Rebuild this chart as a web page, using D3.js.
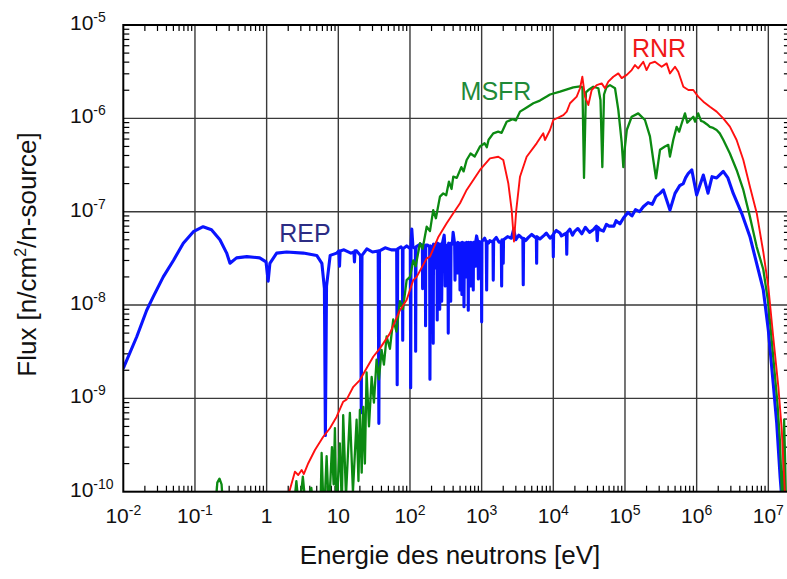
<!DOCTYPE html>
<html><head><meta charset="utf-8">
<script src="https://cdn.jsdelivr.net/npm/d3@7"></script>
<style>body{margin:0;background:#fff}svg{display:block}</style>
</head><body>
<svg id="c" width="787" height="579"></svg>
<script>
// ---- tick values / labels ----
const xTicks = [1e-2,1e-1,1,10,1e2,1e3,1e4,1e5,1e6,1e7];
const xTickLabels = [["10","-2"],["10","-1"],["1",""],["10",""],["10","2"],["10","3"],["10","4"],["10","5"],["10","6"],["10","7"]];
const yTicks = [1e-10,1e-9,1e-8,1e-7,1e-6,1e-5];
const yTickLabels = [["10","-10"],["10","-9"],["10","-8"],["10","-7"],["10","-6"],["10","-5"]];
const xTitle = "Energie des neutrons [eV]";
const seriesNames = ["REP","MSFR","RNR"];

// ---- series: [energy eV, flux] ----
const rep = [
[0.01,2.1e-9],[0.0154,4.57e-9],[0.0212,8.8e-9],[0.0262,1.23e-8],[0.0361,2.0e-8],[0.05,3.0e-8],[0.0687,4.6e-8],
[0.095,6.1e-8],[0.13,6.9e-8],[0.17,6.4e-8],[0.223,5.0e-8],[0.277,3.6e-8],[0.308,2.8e-8],[0.38,3.2e-8],[0.53,3.3e-8],
[0.8,3.2e-8],[0.98,2.9e-8],[1.05,1.8e-8],[1.11,2.8e-8],[1.38,3.6e-8],[1.9,3.7e-8],[3.25,3.6e-8],[5.0,3.4e-8],[5.9,2.8e-8],
[6.4,1.5e-8],[6.6,4.0e-10],[6.85,1.6e-8],[7.7,3.4e-8],[9.5,3.6e-8],[10.2,3.8e-8],[10.4,2.6e-8],[10.6,3.8e-8],[12,3.9e-8],
[15,3.6e-8],[16.5,3.7e-8],[16.8,2.9e-8],[17.1,3.8e-8],[18,3.8e-8],
[20.4,3.4e-8],[20.9,7.0e-10],[21.4,3.4e-8],[25,4.0e-8],[30,3.7e-8],[36.0,3.8e-8],[36.8,5.4e-10],[37.6,3.8e-8],
[45,4.1e-8],[55,3.9e-8],[65.2,3.9e-8],[66.3,1.4e-9],[67.4,4.0e-8],[75,4.2e-8],[78.5,4.0e-8],[79.2,4.2e-9],[80,4.0e-8],
[90,4.3e-8],[101,4.0e-8],[102.3,1.3e-9],[103.5,4.4e-8],[106,6.5e-8],[110,4.2e-8],[119,4.0e-8],[120,3.2e-9],[121.5,4.2e-8],
[140,4.5e-8],[149,4.3e-8],[150,1.5e-8],[151,4.4e-8],[160,3.0e-8],[164,4.3e-8],[165,6e-9],[166,4.4e-8],[175,4.4e-8],
[188,4.2e-8],[190,1.6e-9],[192,4.3e-8],[209,4.2e-8],[211,3.9e-9],[213,4.5e-8],[228,4.3e-8],[230,2.5e-8],[232,4.6e-8],
[238,4.3e-8],[240,6.9e-9],[242,4.6e-8],[258,4.4e-8],[260,9e-9],[262,4.5e-8],[272,4.4e-8],[277,1.1e-8],[282,4.5e-8],
[300,5.6e-8],[307,4.3e-8],[310,1.6e-8],[313,4.4e-8],[320,4.3e-8],[338,4.4e-8],[342,5.0e-9],[346,4.6e-8],[366,4.5e-8],
[370,1.1e-8],[374,4.6e-8],[390,4.5e-8],[400,6.0e-8],[420,4.5e-8],[425,1.85e-8],[430,4.6e-8],[455,4.5e-8],[460,2.2e-8],
[465,4.7e-8],[494,4.5e-8],[499,1.45e-8],[504,4.6e-8],[525,4.5e-8],[530,1.3e-8],[535,4.7e-8],[560,4.6e-8],[567,9.6e-9],
[574,4.6e-8],[604,4.5e-8],[610,2.0e-8],[616,4.7e-8],[645,4.5e-8],[651,8.8e-9],[657,4.7e-8],[693,4.6e-8],[700,1.6e-8],
[707,4.7e-8],[720,4.6e-8],[757,4.6e-8],[764,1.45e-8],[770,4.7e-8],[812,4.7e-8],[820,2.6e-8],[828,4.8e-8],[850,5.5e-8],
[890,4.6e-8],[900,1.9e-8],[910,4.8e-8],[990,4.7e-8],[1000,6.6e-9],[1010,4.8e-8],[1100,5.2e-8],[1160,4.7e-8],
[1174,1.45e-8],[1190,4.8e-8],[1250,4.6e-8],[1300,4.9e-8],[1440,4.7e-8],[1452,1.85e-8],[1470,4.9e-8],[1600,5.3e-8],
[1750,4.7e-8],[1880,4.8e-8],[1901,1.6e-8],[1920,5.0e-8],[1980,4.9e-8],[2001,2.8e-8],[2020,5.0e-8],[2300,5.4e-8],
[2600,5.2e-8],[2800,6.5e-8],[3000,5.0e-8],[3300,5.6e-8],[3760,5.1e-8],[3806,1.65e-8],[3850,5.2e-8],[4100,4.9e-8],
[4500,5.3e-8],[5000,5.7e-8],[5800,5.2e-8],[5853,2.8e-8],[5900,5.4e-8],[6500,5.1e-8],[7500,5.6e-8],[8000,5.9e-8],
[9000,5.2e-8],[9900,5.6e-8],[10000,3.3e-8],[10100,5.8e-8],[11000,6.3e-8],[12400,5.9e-8],[13000,5.5e-8],[15200,5.9e-8],
[15400,3.5e-8],[15600,6.0e-8],[17000,6.5e-8],[18500,5.6e-8],[20000,6.2e-8],[22000,6.6e-8],[25000,5.8e-8],[28000,6.8e-8],
[32000,6.0e-8],[36100,6.4e-8],[40000,7.0e-8],[41000,4.9e-8],[42000,6.8e-8],[45000,6.4e-8],[50000,6.2e-8],[55000,7.3e-8],
[60000,7.0e-8],[70000,7.0e-8],[75000,8.0e-8],[85000,7.4e-8],[94800,8.5e-8],[1.1e5,9.8e-8],[1.25e5,9.0e-8],
[1.4e5,1.05e-7],[1.6e5,1.0e-7],[1.8e5,1.13e-7],[2.1e5,1.25e-7],[2.4e5,1.2e-7],[2.7e5,1.45e-7],[3.08e5,1.57e-7],
[3.43e5,1.71e-7],[4.24e5,1.04e-7],[4.99e5,1.57e-7],[5.8e5,1.9e-7],[6.5e5,2.0e-7],[7.0e5,2.3e-7],[7.66e5,2.58e-7],
[8.56e5,2.8e-7],[1.0e6,1.51e-7],[1.24e6,2.47e-7],[1.44e6,1.58e-7],[1.64e6,2.37e-7],[1.9e6,2.3e-7],[2.35e6,2.7e-7],
[2.73e6,2.3e-7],[3.24e6,1.57e-7],[4.25e6,9.6e-8],[5.54e6,5.4e-8],[7.66e6,2.0e-8],[8.51e6,1.45e-8],[1.0e7,5.4e-9],
[1.17e7,1.45e-9],[1.31e7,5.4e-10],[1.46e7,1.45e-10],[1.55e7,8e-11]
];

const msfr = [
[0.19,6e-11],[0.205,1.25e-10],[0.22,1.38e-10],[0.235,1.2e-10],[0.25,6e-11],
[2.3,5e-11],[2.6,1.3e-10],[2.85,6e-11],[3.2,1.45e-10],[3.5,7e-11],[4.2,1.1e-10],[4.7,5e-11],[5.3,9e-11],[5.6,5e-11],
[5.85,2.6e-10],[6.3,5e-11],[6.87,2.4e-10],[7.4,6e-11],[8.15,3.0e-10],[8.6,1.2e-10],[8.97,4.8e-10],[9.4,6e-11],
[10.5,3.3e-10],[11.2,7e-11],[11.7,6.6e-10],[12.8,9e-11],[14.5,7.0e-10],[16.0,1e-10],[18.0,5.9e-10],[19.1,1.3e-10],
[20.0,7.5e-10],[21.2,1.6e-10],[22.3,8.1e-10],[23.5,2.0e-10],[24.8,1.9e-9],[26.8,5e-10],[29.2,1.7e-9],[31.4,9e-10],
[34.2,2.6e-9],[36.9,1.6e-9],[40.2,3.3e-9],[43.3,2.3e-9],[47.2,4.6e-9],[52.5,3.4e-9],[58.4,7.0e-9],[64.7,5.2e-9],
[72.4,1.1e-8],[79.8,9e-9],[89.8,1.85e-8],[100,2.0e-8],[111,3.0e-8],[120,2.6e-8],[138,4.6e-8],[150,4.0e-8],[171,6.9e-8],
[190,6.2e-8],[211,1.04e-7],[230,8.5e-8],[262,1.45e-7],[291,1.57e-7],[320,1.5e-7],[350,2.1e-7],[380,1.75e-7],
[402,2.37e-7],[450,2.3e-7],[520,3.0e-7],[560,2.7e-7],[618,3.58e-7],[700,4.2e-7],[800,3.9e-7],[948,5.0e-7],[1100,5.4e-7],
[1180,4.9e-7],[1250,5.9e-7],[1453,6.9e-7],[1700,7.2e-7],[1900,7.0e-7],[2234,9.2e-7],[2700,9.8e-7],[3000,9.5e-7],
[3428,1.18e-6],[4200,1.3e-6],[5260,1.45e-6],[6500,1.55e-6],[8090,1.71e-6],[9000,1.8e-6],[1.24e4,1.93e-6],[1.9e4,2.15e-6],
[2.36e4,2.2e-6],[2.55e4,2.15e-6],[2.68e4,2.3e-7],[2.85e4,1.9e-6],[3.08e4,2.01e-6],[3.61e4,2.18e-6],[4.25e4,2.1e-6],
[4.55e4,1.57e-6],[4.83e4,3.0e-7],[5.1e4,1.8e-6],[5.5e4,2.15e-6],[6.18e4,2.27e-6],[7.26e4,2.1e-6],[8.07e4,1.23e-6],
[9.0e4,5.5e-7],[9.48e4,3.0e-7],[1.0e5,5.0e-7],[1.06e5,7.5e-7],[1.24e5,1.04e-6],[1.53e5,1.13e-6],[1.9e5,9.6e-7],
[2.23e5,6.4e-7],[2.48e5,3.6e-7],[2.71e5,2.28e-7],[3.08e5,4.6e-7],[3.61e5,5.0e-7],[4.02e5,5.2e-7],[4.24e5,3.9e-7],
[4.72e5,5.9e-7],[5.26e5,8.1e-7],[5.7e5,7.2e-7],[6.18e5,8.8e-7],[6.87e5,1.13e-6],[7.4e5,9.0e-7],[8.07e5,9.6e-7],
[8.98e5,1.04e-6],[9.5e5,9.2e-7],[1.05e6,1.13e-6],[1.15e6,9.4e-7],[1.24e6,9.2e-7],[1.4e6,8.6e-7],[1.53e6,8.1e-7],
[1.7e6,7.9e-7],[1.9e6,7.5e-7],[2.1e6,6.9e-7],[2.35e6,5.9e-7],[2.91e6,4.2e-7],[3.61e6,2.8e-7],[4.48e6,1.71e-7],
[5.54e6,8.8e-8],[6.88e6,4.2e-8],[8.51e6,2.4e-8],[1.0e7,1.04e-8],[1.17e7,2.8e-9],[1.34e7,8.9e-10],[1.46e7,3.3e-10],
[1.54e7,9.7e-11],[1.6e7,8e-11],[1.66e7,5.9e-10],[1.72e7,2e-10],[1.77e7,6e-11]
];

const rnr = [
[1.9,7e-11],[2.07,1.0e-10],[2.48,1.64e-10],[2.76,1.51e-10],[3.08,1.71e-10],[3.31,1.55e-10],[3.81,2.02e-10],
[4.72,2.8e-10],[6.16,3.88e-10],[7.64,4.78e-10],[9.48,6.36e-10],[11.7,9.2e-10],[13.1,9.75e-10],[16.2,1.33e-9],
[20.0,1.57e-9],[24.8,2.1e-9],[30.7,2.79e-9],[38.1,3.43e-9],[52.5,4.97e-9],[72.4,8.8e-9],[89.8,1.13e-8],[111,1.85e-8],
[124,2.0e-8],[171,3.16e-8],[190,3.29e-8],[250,5.4e-8],[325,7.5e-8],[402,9.6e-8],[499,1.23e-7],[618,1.71e-7],
[948,2.8e-7],[1307,3.73e-7],[1708,3.88e-7],[2004,3.58e-7],[2353,2.02e-7],[2624,1.04e-7],[2825,4.8e-8],[3041,1.04e-7],
[3428,2.37e-7],[4246,3.88e-7],[5853,5.4e-7],[7240,6.92e-7],[7650,5.86e-7],[8990,7.5e-7],[1e4,9.6e-7],[1.38e4,1.08e-6],
[1.54e4,1.18e-6],[1.71e4,1.45e-6],[2.12e4,1.71e-6],[2.36e4,2.1e-6],[2.54e4,2.79e-6],[2.77e4,1.71e-6],[3.08e4,1.39e-6],
[3.43e4,2.01e-6],[4.03e4,2.27e-6],[4.73e4,2.37e-6],[5.26e4,2.1e-6],[5.85e4,2.47e-6],[6.87e4,2.79e-6],[8.07e4,3.03e-6],
[9e4,2.7e-6],[1.06e5,2.92e-6],[1.24e5,3.29e-6],[1.38e5,3.72e-6],[1.53e5,3.43e-6],[1.8e5,4.04e-6],[2.0e5,3.29e-6],
[2.23e5,3.88e-6],[2.62e5,4.04e-6],[2.91e5,3.8e-6],[3.25e5,3.57e-6],[3.81e5,3.88e-6],[4.24e5,3.03e-6],[4.99e5,3.57e-6],
[5.54e5,3.16e-6],[6.52e5,2.18e-6],[7.66e5,2.01e-6],[8.97e5,2.01e-6],[1.05e6,1.71e-6],[1.24e6,1.51e-6],[1.53e6,1.33e-6],
[1.9e6,1.18e-6],[2.35e6,1.0e-6],[2.91e6,8.14e-7],[3.61e6,5.86e-7],[4.48e6,3.58e-7],[5.54e6,1.85e-7],[6.88e6,9.7e-8],
[8.51e6,3.7e-8],[1e7,1.57e-8],[1.17e7,4.57e-9],[1.38e7,1.33e-9],[1.54e7,4.58e-10],[1.66e7,1.45e-10],[1.72e7,8e-11]
];

// ---- drawing ----
const svg = d3.select("#c");
const L = 123.3, T = 25, R = 789.9, B = 491.7;
const x = d3.scaleLog().domain([1e-2, 2e7]).range([L, R]);
const y = d3.scaleLog().domain([1e-10, 1e-5]).range([B, T]);
const font = "'Liberation Sans', Arial, sans-serif";

svg.append("defs").append("clipPath").attr("id","clip")
  .append("rect").attr("x",L).attr("y",T).attr("width",R-L).attr("height",B-T);

// grid
const g = svg.append("g");
g.selectAll(".gx").data(xTicks.slice(1)).join("line")
  .attr("x1",d=>x(d)).attr("x2",d=>x(d)).attr("y1",T).attr("y2",B)
  .attr("stroke","#3a3a3a").attr("stroke-width",1.4);
g.selectAll(".gy").data(yTicks.slice(1,-1)).join("line")
  .attr("y1",d=>y(d)).attr("y2",d=>y(d)).attr("x1",L).attr("x2",R)
  .attr("stroke","#3a3a3a").attr("stroke-width",1.4);

// minor ticks
const xMinor = [], yMinor = [];
xTicks.forEach(d=>{ for(let k=2;k<10;k++){ const v=k*d; if(v<2e7) xMinor.push(v);} });
yTicks.slice(0,-1).forEach(d=>{ for(let k=2;k<10;k++) yMinor.push(k*d); });
const tl = 6;
g.selectAll(".mxt").data(xMinor).join("line").attr("x1",d=>x(d)).attr("x2",d=>x(d)).attr("y1",T).attr("y2",T+tl).attr("stroke","#000").attr("stroke-width",1.2);
g.selectAll(".mxb").data(xMinor).join("line").attr("x1",d=>x(d)).attr("x2",d=>x(d)).attr("y1",B).attr("y2",B-tl).attr("stroke","#000").attr("stroke-width",1.2);
g.selectAll(".myl").data(yMinor).join("line").attr("y1",d=>y(d)).attr("y2",d=>y(d)).attr("x1",L).attr("x2",L+tl).attr("stroke","#000").attr("stroke-width",1.2);
g.selectAll(".myr").data(yMinor).join("line").attr("y1",d=>y(d)).attr("y2",d=>y(d)).attr("x1",R).attr("x2",R-tl).attr("stroke","#000").attr("stroke-width",1.2);

// curves
const line = d3.line().x(d=>x(d[0])).y(d=>y(d[1]));
const cg = svg.append("g").attr("clip-path","url(#clip)");
cg.append("path").datum(rep).attr("d",line).attr("fill","none").attr("stroke","#0a14ff").attr("stroke-width",3.1).attr("stroke-linejoin","round");
cg.append("path").datum(msfr).attr("d",line).attr("fill","none").attr("stroke","#0c8a12").attr("stroke-width",2.3).attr("stroke-linejoin","round");
cg.append("path").datum(rnr).attr("d",line).attr("fill","none").attr("stroke","#ff1010").attr("stroke-width",1.9).attr("stroke-linejoin","round");

// frame
svg.append("rect").attr("x",L).attr("y",T).attr("width",R-L).attr("height",B-T)
  .attr("fill","none").attr("stroke","#000").attr("stroke-width",2);

// tick labels
const xl = svg.append("g").attr("font-family",font).attr("fill","#111");
xTicks.forEach((v,i)=>{
  const t = xl.append("text").attr("x",x(v)).attr("y",523).attr("text-anchor","middle").attr("font-size",21);
  t.append("tspan").text(xTickLabels[i][0]);
  if (xTickLabels[i][1]) t.append("tspan").attr("font-size",14).attr("dy",-8).text(xTickLabels[i][1]);
});
yTicks.forEach((v,i)=>{
  const t = xl.append("text").attr("x",70).attr("y",y(v)+5).attr("font-size",21);
  t.append("tspan").text(yTickLabels[i][0]);
  t.append("tspan").attr("font-size",14).attr("dy",-8).text(yTickLabels[i][1]);
});

// axis titles
svg.append("text").attr("x",450).attr("y",564).attr("text-anchor","middle")
  .attr("font-family",font).attr("font-size",26).attr("fill","#111").text(xTitle);
const yt = svg.append("text").attr("transform","translate(36,254.5) rotate(-90)").attr("text-anchor","middle")
  .attr("font-family",font).attr("font-size",26).attr("fill","#111");
yt.append("tspan").text("Flux [n/cm");
yt.append("tspan").attr("font-size",16).attr("dy",-10).text("2");
yt.append("tspan").attr("dy",10).text("/n-source]");

// series labels
svg.append("text").attr("x",305).attr("y",242).attr("text-anchor","middle").attr("font-family",font).attr("font-size",25).attr("fill","#2c2c84").text(seriesNames[0]);
svg.append("text").attr("x",496).attr("y",100).attr("text-anchor","middle").attr("font-family",font).attr("font-size",25).attr("fill","#1f8a38").text(seriesNames[1]);
svg.append("text").attr("x",659).attr("y",57).attr("text-anchor","middle").attr("font-family",font).attr("font-size",25).attr("fill","#f01818").text(seriesNames[2]);
</script>
</body></html>
